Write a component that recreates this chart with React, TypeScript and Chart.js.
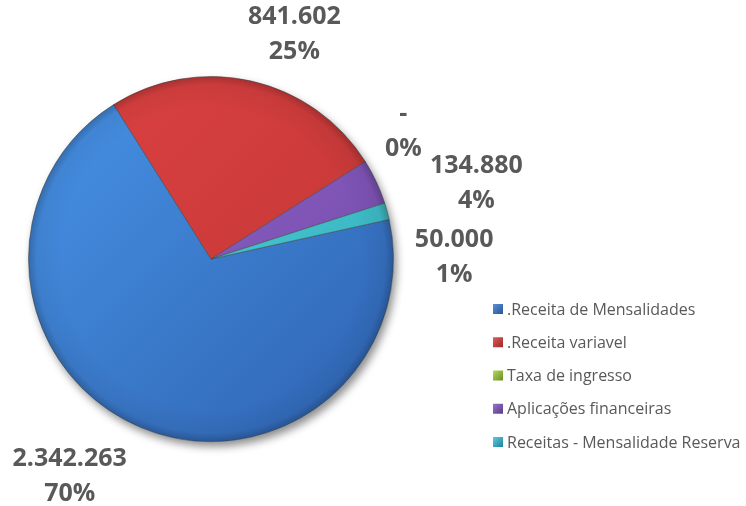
import { useEffect, useRef } from "react";
import { Chart, registerables } from "chart.js";

Chart.register(...registerables);

// ---- data ----
const categories = [
  ".Receita de Mensalidades",
  ".Receita variavel",
  "Taxa de ingresso",
  "Aplicações financeiras",
  "Receitas - Mensalidade Reserva",
];
const values = [2342263, 841602, 0, 134880, 50000];

// ---- styles ----
const sliceLight = ["#4894e8", "#de4242", "#a0cc50", "#9868d4", "#58dde6"];
const sliceDark = ["#2e62b0", "#bd3434", "#739a30", "#6c46a0", "#2ea7b4"];
const legendLight = ["#5a8fd6", "#e05a5a", "#b5dc5c", "#9a74cc", "#5ccce0"];
const legendDark = ["#2b5596", "#9c2a2a", "#6a8c2a", "#5a3a8a", "#1f8299"];
// label offsets (dx, dy) from the outer edge point at the slice's mid angle
const labelOffsets: [number, number][] = [
  [-71, 49],
  [43, -47],
  [38, -30],
  [100, 2],
  [67, 46],
];

const textColor = "#595959";

function fmtThousands(v: number): string {
  if (v === 0) return "-";
  return String(Math.round(v)).replace(/\B(?=(\d{3})+(?!\d))/g, ".");
}

const total = values.reduce((a, b) => a + b, 0);

const decoPlugin = {
  id: "deco",
  beforeDatasetsDraw(chart: any) {
    const meta = chart.getDatasetMeta(0);
    const arc = meta.data[0];
    if (!arc) return;
    const { x, y, outerRadius } = arc.getProps(["x", "y", "outerRadius"], true);
    const ctx = chart.ctx;
    ctx.save();
    ctx.shadowColor = "rgba(0,0,0,0.45)";
    ctx.shadowBlur = 9;
    ctx.shadowOffsetX = 3;
    ctx.shadowOffsetY = 5;
    ctx.fillStyle = "#ffffff";
    ctx.beginPath();
    ctx.arc(x, y, outerRadius, 0, Math.PI * 2);
    ctx.fill();
    ctx.restore();
  },
  afterDatasetsDraw(chart: any) {
    const meta = chart.getDatasetMeta(0);
    const arc0 = meta.data[0];
    if (!arc0) return;
    const { x, y, outerRadius } = arc0.getProps(["x", "y", "outerRadius"], true);
    const ctx = chart.ctx;
    // bevel ring overlay
    ctx.save();
    const g = ctx.createRadialGradient(x, y, outerRadius * 0.82, x, y, outerRadius);
    g.addColorStop(0, "rgba(0,0,0,0)");
    g.addColorStop(0.75, "rgba(0,0,0,0.05)");
    g.addColorStop(1, "rgba(0,0,0,0.22)");
    ctx.fillStyle = g;
    ctx.beginPath();
    ctx.arc(x, y, outerRadius, 0, Math.PI * 2);
    ctx.fill();
    ctx.restore();

    // data labels
    ctx.save();
    ctx.fillStyle = textColor;
    ctx.font = "bold 25px 'Open Sans'";
    ctx.textAlign = "center";
    ctx.textBaseline = "middle";
    meta.data.forEach((el: any, i: number) => {
      const p = el.getProps(["x", "y", "startAngle", "endAngle", "outerRadius"], true);
      const mid = (p.startAngle + p.endAngle) / 2;
      const bx = p.x + p.outerRadius * Math.cos(mid) + labelOffsets[i][0];
      const by = p.y + p.outerRadius * Math.sin(mid) + labelOffsets[i][1];
      const pct = Math.round((values[i] / total) * 100) + "%";
      ctx.fillText(fmtThousands(values[i]), bx, by - 17.5);
      ctx.fillText(pct, bx, by + 17.5);
    });
    ctx.restore();

    // legend
    ctx.save();
    const lx = 493;
    const ly = 309;
    const gap = 33.25;
    ctx.font = "16px 'Open Sans'";
    ctx.textBaseline = "middle";
    ctx.textAlign = "left";
    categories.forEach((c, i) => {
      const yy = ly + i * gap;
      const lg = ctx.createLinearGradient(lx, yy - 5, lx + 10, yy + 5);
      lg.addColorStop(0, legendLight[i]);
      lg.addColorStop(1, legendDark[i]);
      ctx.fillStyle = lg;
      ctx.fillRect(lx, yy - 5, 10, 10);
      ctx.fillStyle = textColor;
      ctx.fillText(c, lx + 14, yy + 1);
    });
    ctx.restore();
  },
};

export default function App() {
  const ref = useRef<HTMLCanvasElement | null>(null);
  useEffect(() => {
    document.body.style.margin = "0";
    if (!ref.current) return;
    const chart = new Chart(ref.current, {
      type: "pie",
      data: {
        labels: categories,
        datasets: [
          {
            data: values,
            backgroundColor: (c: any) => {
              const i = c.dataIndex;
              const area = c.chart.chartArea;
              if (!area) return sliceLight[i];
              const g = c.chart.ctx.createLinearGradient(area.left, area.top, area.right, area.bottom);
              g.addColorStop(0, sliceLight[i]);
              g.addColorStop(1, sliceDark[i]);
              return g;
            },
            borderColor: "rgba(70,70,70,0.55)",
            borderWidth: 1,
            hoverOffset: 0,
          },
        ],
      },
      options: {
        responsive: false,
        animation: false,
        rotation: 77.5,
        layout: { padding: { left: 28, right: 352, top: 76, bottom: 64 } },
        plugins: {
          legend: { display: false },
          tooltip: { enabled: false },
        },
      },
      plugins: [decoPlugin],
    });
    return () => chart.destroy();
  }, []);
  return (
    <div style={{ width: 746, height: 506, background: "#fff" }}>
      <canvas ref={ref} width={746} height={506} style={{ display: "block" }} />
    </div>
  );
}
